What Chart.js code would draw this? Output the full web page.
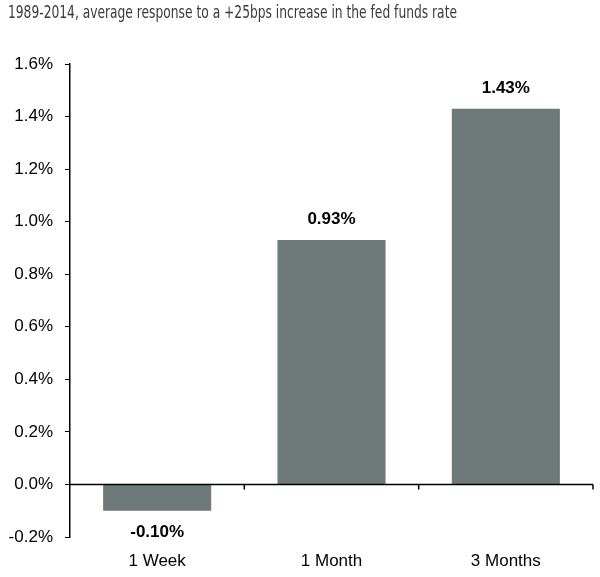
<!DOCTYPE html>
<html>
<head>
<meta charset="utf-8">
<script src="https://cdn.jsdelivr.net/npm/chart.js@4"></script>
<style>
  body { margin: 0; background: #fff; }
  #wrap { position: relative; width: 600px; height: 577px; }
  #title {
    position: absolute; left: 8px; top: 1px;
    font-family: "DejaVu Sans Condensed", "Liberation Sans Narrow", sans-serif;
    font-size: 18px; color: #3a3a3a; white-space: nowrap;
    transform-origin: left top;
  }
</style>
</head>
<body>
<div id="wrap">
  <div id="title">1989-2014, average response to a +25bps increase in the fed funds rate</div>
  <canvas id="fedChart" width="600" height="577"></canvas>
</div>
<script>
// Chart data
const horizons = ["1 Week", "1 Month", "3 Months"];
const avgResponse = [-0.10, 0.93, 1.43];
const valueLabels = ["-0.10%", "0.93%", "1.43%"];

const barColor = "#6e7979";

// Squeeze the title to the narrow width of the original
const titleEl = document.getElementById("title");
const titleWidth = titleEl.getBoundingClientRect().width;
titleEl.style.transform = "scaleX(" + (449 / titleWidth) + ")";

// Zero line with category tick marks below it
const zeroLinePlugin = {
  id: "zeroLine",
  afterDatasetsDraw(chart) {
    const { ctx, chartArea, scales } = chart;
    const y0 = scales.y.getPixelForValue(0);
    ctx.save();
    ctx.strokeStyle = "#000";
    ctx.lineWidth = 1.5;
    ctx.beginPath();
    ctx.moveTo(chartArea.left, y0);
    ctx.lineTo(chartArea.right, y0);
    const step = (chartArea.right - chartArea.left) / horizons.length;
    for (let i = 1; i <= horizons.length; i++) {
      const x = chartArea.left + step * i;
      ctx.moveTo(x, y0);
      ctx.lineTo(x, y0 + 5);
    }
    ctx.stroke();
    ctx.restore();
  },
};

// Value labels above/below bars
const valueLabelPlugin = {
  id: "valueLabels",
  afterDatasetsDraw(chart) {
    const { ctx } = chart;
    const meta = chart.getDatasetMeta(0);
    ctx.save();
    ctx.font = "bold 17px 'Liberation Sans', Arial, sans-serif";
    ctx.fillStyle = "#000";
    ctx.textAlign = "center";
    meta.data.forEach((bar, i) => {
      const v = avgResponse[i];
      if (v >= 0) {
        ctx.textBaseline = "bottom";
        ctx.fillText(valueLabels[i], bar.x, bar.y - 12);
      } else {
        ctx.textBaseline = "top";
        ctx.fillText(valueLabels[i], bar.x, bar.y + 13);
      }
    });
    ctx.restore();
  },
};

const ctx = document.getElementById("fedChart").getContext("2d");
const fedChart = new Chart(ctx, {
  type: "bar",
  data: {
    labels: horizons,
    datasets: [
      {
        data: avgResponse,
        backgroundColor: barColor,
        borderWidth: 0,
        barPercentage: 0.62,
        categoryPercentage: 1.0,
      },
    ],
  },
  options: {
    responsive: false,
    animation: false,
    layout: { padding: { top: 64, right: 7, left: 0, bottom: 0 } },
    scales: {
      x: {
        grid: { display: false },
        border: { display: false },
        ticks: {
          color: "#000",
          padding: 6,
          font: { family: "'Liberation Sans', Arial, sans-serif", size: 17 },
        },
        afterFit(scale) {
          scale.height = 40;
        },
      },
      y: {
        min: -0.2,
        max: 1.6,
        grid: { drawOnChartArea: false, drawTicks: true, tickLength: 5, color: "#000" },
        border: { display: true, color: "#000", width: 1.5 },
        ticks: {
          stepSize: 0.2,
          color: "#000",
          padding: 12,
          font: { family: "'Liberation Sans', Arial, sans-serif", size: 17 },
          callback: function (value) {
            return value.toFixed(1) + "%";
          },
        },
        afterFit(scale) {
          scale.width = 70;
        },
      },
    },
    plugins: {
      legend: { display: false },
      tooltip: { enabled: false },
    },
  },
  plugins: [zeroLinePlugin, valueLabelPlugin],
});
</script>
</body>
</html>
